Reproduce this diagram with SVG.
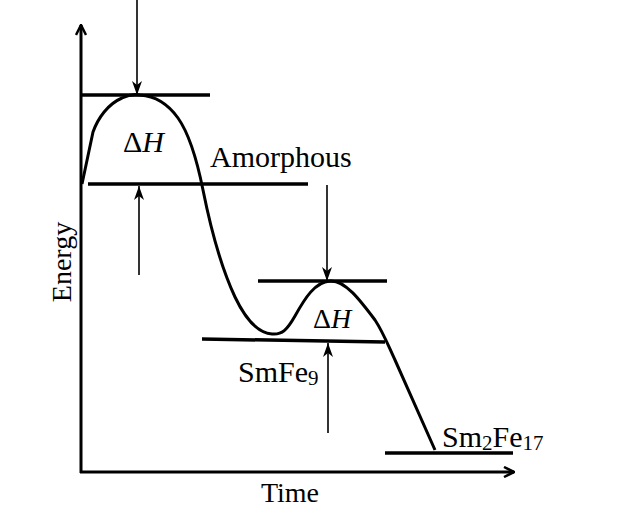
<svg xmlns="http://www.w3.org/2000/svg" width="644" height="525" viewBox="0 0 644 525">
<defs>
<style>
.ax{stroke:#000;stroke-width:3;fill:none}
.lvl{stroke:#000;stroke-width:3.5;fill:none}
.cur{stroke:#000;stroke-width:3;fill:none;stroke-linejoin:round}
.arr{stroke:#000;stroke-width:1.6;fill:none}
.t{font-family:"Liberation Serif","Times New Roman",serif;fill:#000}
</style>
<marker id="open" viewBox="0 0 12 12" refX="11" refY="6" markerWidth="12" markerHeight="12" markerUnits="userSpaceOnUse" orient="auto">
<path d="M1,1 L11,6 L1,11" fill="none" stroke="#000" stroke-width="2.5"/>
</marker>
<marker id="head" viewBox="0 0 14 10" refX="14" refY="5" markerWidth="15" markerHeight="10" markerUnits="userSpaceOnUse" orient="auto">
<path d="M0,0 L14,5 L0,10 L4,5 Z" fill="#000"/>
</marker>
</defs>
<rect width="644" height="525" fill="#fff"/>
<g id="axes">
<line class="ax" x1="81" y1="473" x2="81" y2="25" marker-end="url(#open)"/>
<line class="ax" x1="80" y1="472" x2="514" y2="472" marker-end="url(#open)"/>
</g>
<g id="levels">
<line class="lvl" x1="81" y1="95" x2="210" y2="95"/>
<line class="lvl" x1="88" y1="184" x2="308" y2="184"/>
<line class="lvl" x1="258" y1="281" x2="387" y2="281"/>
<line class="lvl" x1="202" y1="339" x2="385" y2="342"/>
<line class="lvl" x1="385" y1="453" x2="513" y2="453"/>
</g>
<g id="curve">
<path class="cur" d="M82,184 L93,132 C98,118 108,104 122,98 C128,95 134,94 140,95 C155,96 168,104 178,118 C190,135 197,160 203,190 C210,225 220,265 235,297 C245,318 258,333 272,334 C282,335 287,330 295,316 C305,298 315,282 330,281 C345,280 360,300 375,320 C383,332 388,345 395,360 L435,450"/>
</g>
<g id="connectors">
<line class="arr" x1="137" y1="0" x2="137" y2="95" marker-end="url(#head)"/>
<line class="arr" x1="139" y1="275" x2="139" y2="186" marker-end="url(#head)"/>
<line class="arr" x1="327" y1="185" x2="327" y2="281" marker-end="url(#head)"/>
<line class="arr" x1="328" y1="433" x2="328" y2="343" marker-end="url(#head)"/>
</g>
<g id="labels">
<text class="t" x="123" y="152" font-size="30">Δ<tspan font-style="italic">H</tspan></text>
<text class="t" x="210" y="167" font-size="30">Amorphous</text>
<text class="t" x="313" y="328" font-size="28">Δ<tspan font-style="italic">H</tspan></text>
<text class="t" x="238" y="382" font-size="30">SmFe<tspan font-size="21" dy="3">9</tspan></text>
<text class="t" x="442" y="447" font-size="30">Sm<tspan font-size="21" dy="3">2</tspan><tspan dy="-3">Fe</tspan><tspan font-size="21" dy="3">17</tspan></text>
<text class="t" x="290" y="502" font-size="28" text-anchor="middle">Time</text>
<text class="t" font-size="28" text-anchor="middle" transform="translate(71,262) rotate(-90)">Energy</text>
</g>
</svg>
